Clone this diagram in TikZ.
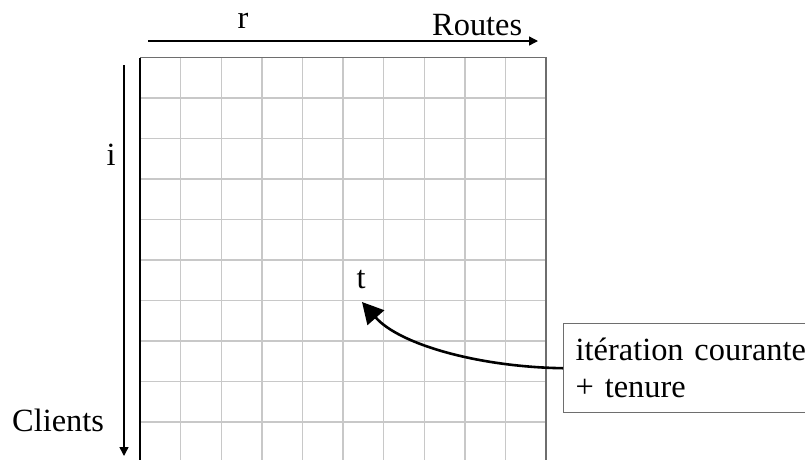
\documentclass[tikz,border=0pt]{standalone}
\usepackage{fontspec}
\setmainfont{Liberation Serif}
\usepackage{tikz}
\usetikzlibrary{
	positioning,
	calc,
	arrows.meta
}
\definecolor{GridGray}{RGB}{200,200,200}
\definecolor{FrameGray}{RGB}{110,110,110}

\begin{document}
\begin{tikzpicture}[
	x=1pt,
	y=-1pt,
	gridline/.style={GridGray, line width=1.4pt},
	axisline/.style={-{Triangle[length=9pt,width=9pt]}, black, line width=1.4pt},
	label/.style={anchor=base, inner sep=0pt, font=\fontsize{32.4}{37}\selectfont}
	]
	
	\useasboundingbox (0,0) rectangle (805,459);
	\clip (0,0) rectangle (805,459);
	
	\foreach \c in {1,...,9}
	\draw[gridline] (140+40.6*\c,57.5) -- (140+40.6*\c,470);
	
	\foreach \r in {1,...,10}
	\draw[gridline] (140,57.5+40.5*\r) -- (546,57.5+40.5*\r);
	
	\draw[
	FrameGray,
	line width=1.6pt
	]
	(140,57.5) -- (546,57.5) -- (546,470);
	
	\draw[
	black,
	line width=1.6pt
	]
	(140,57.5) -- (140,470);
	
	\coordinate (RouteStart) at (148,41);
	\coordinate (RouteEnd) at (538,41);
	\coordinate (ClientStart) at (124,65);
	\coordinate (ClientEnd) at (124,456);
	\coordinate (TabuCell) at (362,302);
	
	\draw[axisline] (RouteStart) -- (RouteEnd);
	\draw[axisline] (ClientStart) -- (ClientEnd);
	
	\node[label] (R) at (243,28) {r};
	\node[label, anchor=base west] (Routes) at (432,35) {Routes};
	\node[label] (I) at (111,165) {i};
	\node[label, anchor=base west] (Clients) at (12,431) {Clients};
	\node[label] (T) at (361,288) {t};
	
	\node[
	draw=FrameGray,
	line width=1.4pt,
	anchor=north west,
	minimum height=89pt,
	text width=260pt,
	inner xsep=12pt,
	inner ysep=0pt,
	align=left,
	font=\fontsize{32.4}{37}\selectfont
	]
	(Note)
	at (563,323)
	{itération courante\\+ tenure};
	
	\draw[
	-{Triangle[length=21pt,width=22pt]},
	black,
	line width=2.6pt
	]
	(Note.west) .. controls (480,367) and (400,345) .. (TabuCell);
	
\end{tikzpicture}
\end{document}
